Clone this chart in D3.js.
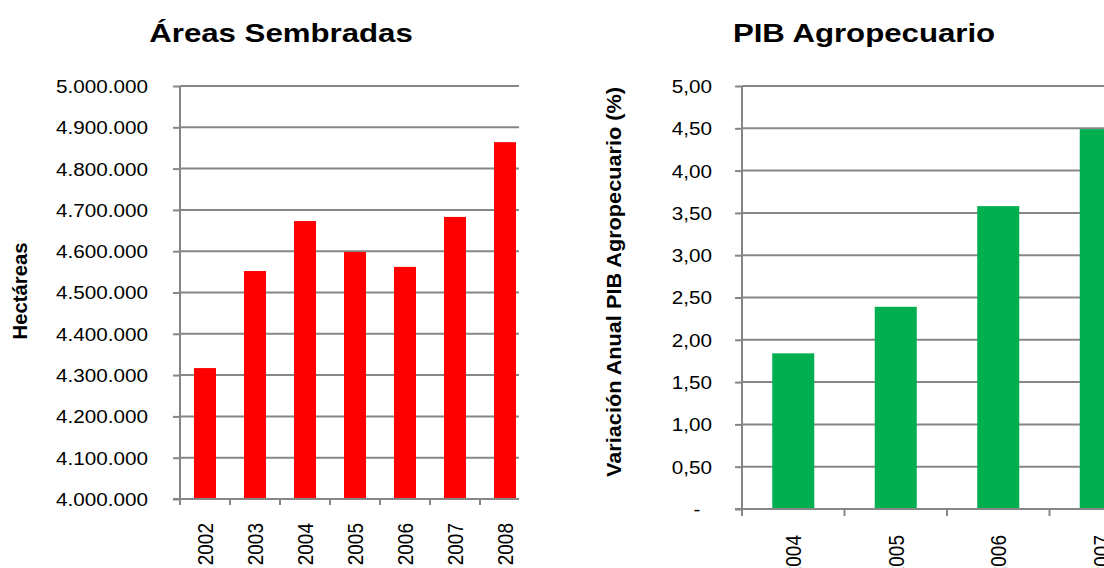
<!DOCTYPE html>
<meta charset="utf-8">
<style>
  body { margin: 0; background: #fff; }
  text { font-family: "Liberation Sans", Arial, sans-serif; fill: #000; }
</style>

<svg width="1104" height="568"></svg>

<script src="https://d3js.org/d3.v7.min.js"></script>
<script>
// left chart: areas sembradas (hectareas)
var areaYears = ['2002', '2003', '2004', '2005', '2006', '2007', '2008']
var areaValues = [4317000, 4552000, 4673000, 4598000, 4562000, 4683000, 4864000]
var areaTicks = [4000000, 4100000, 4200000, 4300000, 4400000, 4500000, 4600000, 4700000, 4800000, 4900000, 5000000]

// right chart: variacion anual PIB agropecuario (%)
var pibYears = ['2004', '2005', '2006', '2007']
var pibValues = [1.84, 2.39, 3.58, 4.49]
var pibTicks = [0, 0.5, 1, 1.5, 2, 2.5, 3, 3.5, 4, 4.5, 5]

var gridColor = '#868686'
var lineW = 2
var stretch = 1.15

var locale = d3.formatLocale({ decimal: ',', thousands: '.', grouping: [3], currency: ['', ''] })
var fmtArea = locale.format(',.0f')
var fmtPib = function (v) { return v === 0 ? '-\u2007' : locale.format('.2f')(v) }

var svg = d3.select('svg')

svg.append('defs').append('clipPath').attr('id', 'leftClip')
  .append('rect').attr('x', 0).attr('y', 0).attr('width', 519).attr('height', 568)

function drawChart(opts) {
  var g = svg.append('g')
  if (opts.clip) g.attr('clip-path', 'url(#' + opts.clip + ')')

  var y = d3.scaleLinear().domain(opts.domain).range([opts.bottom, opts.top])
  var xFull = d3.scaleBand().domain(opts.cats).range([opts.left, opts.right]).padding(0)
  var x = d3.scaleBand().domain(opts.cats).range([opts.left, opts.right])
    .paddingInner(opts.pad).paddingOuter(opts.pad / 2)

  // gridlines
  g.append('g').selectAll('line')
    .data(opts.ticks.slice(1))
    .enter().append('line')
    .attr('x1', opts.left).attr('x2', opts.right)
    .attr('y1', function (d) { return y(d) }).attr('y2', function (d) { return y(d) })
    .attr('stroke', gridColor).attr('stroke-width', lineW)

  // bars
  g.append('g').selectAll('rect')
    .data(opts.values)
    .enter().append('rect')
    .attr('x', function (d, i) { return x(opts.cats[i]) })
    .attr('width', x.bandwidth())
    .attr('y', function (d) { return y(d) })
    .attr('height', function (d) { return y(opts.domain[0]) - y(d) })
    .attr('fill', opts.color)

  // y axis
  var yAxis = g.append('g')
    .attr('transform', 'translate(' + opts.left + ',0)')
    .call(d3.axisLeft(y).tickValues(opts.ticks).tickSize(7).tickSizeOuter(0).tickFormat(opts.fmt))
  yAxis.select('.domain').remove()
  yAxis.selectAll('line').attr('stroke', gridColor).attr('stroke-width', lineW)
  yAxis.selectAll('text')
    .attr('font-size', 18)
    .attr('font-family', '"Liberation Sans", Arial, sans-serif')
    .attr('x', 0).attr('dy', '0.36em')
    .attr('transform', 'translate(' + (-opts.labelGap) + ',0) scale(' + stretch + ',1)')

  g.append('line')
    .attr('x1', opts.left).attr('x2', opts.left)
    .attr('y1', opts.top).attr('y2', opts.bottom + opts.tickDown)
    .attr('stroke', gridColor).attr('stroke-width', lineW)

  // x axis
  g.append('line')
    .attr('x1', opts.left - 7).attr('x2', opts.right)
    .attr('y1', opts.bottom).attr('y2', opts.bottom)
    .attr('stroke', gridColor).attr('stroke-width', lineW)

  var bounds = opts.cats.map(function (c) { return xFull(c) })
  g.append('g').selectAll('line')
    .data(bounds)
    .enter().append('line')
    .attr('x1', function (d) { return d }).attr('x2', function (d) { return d })
    .attr('y1', opts.bottom).attr('y2', opts.bottom + opts.tickDown)
    .attr('stroke', gridColor).attr('stroke-width', lineW)

  g.append('g').selectAll('text')
    .data(opts.cats)
    .enter().append('text')
    .attr('transform', function (d) {
      return 'translate(' + (xFull(d) + xFull.bandwidth() / 2) + ',' + opts.labelTop + ') rotate(-90) scale(1,' + stretch + ')'
    })
    .attr('text-anchor', 'end')
    .attr('dy', '0.36em')
    .attr('font-size', 19)
    .text(function (d) { return d })

  // title
  svg.append('text')
    .attr('transform', 'translate(' + opts.titleX + ',42) scale(1.2,1)')
    .attr('text-anchor', 'middle')
    .attr('font-size', 26)
    .attr('font-weight', 'bold')
    .text(opts.title)

  // axis title
  svg.append('text')
    .attr('transform', 'translate(' + opts.yTitleX + ',' + opts.yTitleY + ') rotate(-90) scale(1,' + stretch + ')')
    .attr('text-anchor', 'middle')
    .attr('dy', '0.36em')
    .attr('font-size', opts.yTitleSize)
    .attr('font-weight', 'bold')
    .attr('textLength', opts.yTitleLen)
    .attr('lengthAdjust', 'spacingAndGlyphs')
    .text(opts.yTitle)
}

drawChart({
  cats: areaYears, values: areaValues, ticks: areaTicks, fmt: fmtArea,
  domain: [4000000, 5000000], top: 86, bottom: 499, left: 180, right: 530,
  pad: 0.56, color: '#ff0000', clip: 'leftClip',
  labelGap: 32, tickDown: 6, labelTop: 523,
  title: 'Áreas Sembradas', titleX: 281,
  yTitle: 'Hectáreas', yTitleX: 20, yTitleY: 291, yTitleSize: 17, yTitleLen: 97
})

drawChart({
  cats: pibYears, values: pibValues, ticks: pibTicks, fmt: fmtPib,
  domain: [0, 5], top: 86, bottom: 509, left: 742, right: 1152,
  pad: 0.59, color: '#00b050', clip: null,
  labelGap: 30, tickDown: 7, labelTop: 535,
  title: 'PIB Agropecuario', titleX: 864,
  yTitle: 'Variación Anual PIB Agropecuario (%)', yTitleX: 614, yTitleY: 282, yTitleSize: 17, yTitleLen: 390
})
</script>
